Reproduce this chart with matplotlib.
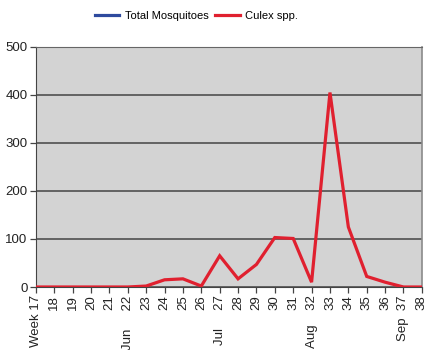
import matplotlib
matplotlib.use("Agg")
import matplotlib.pyplot as plt
from matplotlib.lines import Line2D

plt.rcParams['font.family'] = ['Liberation Sans', 'DejaVu Sans']

weeks = list(range(17, 39))
week_labels = ["Week 17", "18", "19", "20", "21", "Jun     22", "23", "24", "25", "26",
               "Jul     27", "28", "29", "30", "31", "Aug    32", "33", "34", "35", "36",
               "Sep  37", "38"]
culex = [0, 0, 0, 0, 0, 0, 2, 15, 17, 2, 65, 17, 47, 103, 101, 10, 405, 125, 22, 10, 0, 0]
series_names = ["Total Mosquitoes", "Culex spp."]
series_colors = ["#2e4a9e", "#e0202f"]
y_ticks = [0, 100, 200, 300, 400, 500]

fig = plt.figure(figsize=(4.27, 3.5), dpi=100)
ax = fig.add_axes([0.084, 0.18, 0.904, 0.686])
ax.set_facecolor("#d3d3d3")

ax.plot(weeks, culex, color=series_colors[1], lw=2.3, zorder=3, solid_joinstyle='miter')

ax.set_xlim(weeks[0], weeks[-1])
ax.set_ylim(0, 500)
ax.set_yticks(y_ticks)
ax.set_yticklabels([str(v) for v in y_ticks], fontsize=9.5, color="#222222")
ax.set_xticks(weeks)
ax.set_xticklabels(week_labels, rotation=90, fontsize=9.5, color="#222222")
ax.grid(axis='y', color="#444444", lw=1.1, zorder=1)
ax.tick_params(axis='both', length=4, width=0.9, color="#444444", pad=2)

ax.spines["top"].set_color("#666666")
ax.spines["right"].set_color("#8a8a8a")
ax.spines["right"].set_linewidth(1.2)
ax.spines["left"].set_color("#444444")
ax.spines["bottom"].set_color("#444444")

handles = [Line2D([], [], color=c, lw=2.3) for c in series_colors]
fig.legend(handles, series_names, loc="center", bbox_to_anchor=(0.46, 0.955),
           ncol=2, frameon=False, fontsize=8, handlelength=2.2,
           handletextpad=0.5, columnspacing=0.6)

fig.savefig("out.png", dpi=100)
